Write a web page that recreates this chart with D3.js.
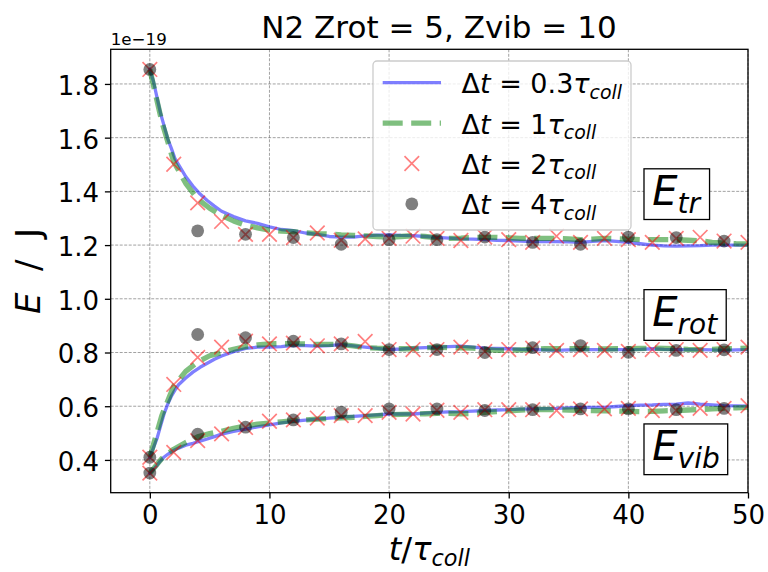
<!DOCTYPE html>
<html><head><meta charset="utf-8">
<script src="https://cdn.jsdelivr.net/npm/d3@7"></script>
<style>body{margin:0;background:#fff} svg{display:block} text{font-family:"DejaVu Sans",sans-serif;fill:#000}</style>
</head><body><svg id="c" width="768" height="572"></svg>
<script>
// ---------- data ----------
const xTicks = [0, 10, 20, 30, 40, 50];
const yTicks = [0.4, 0.6, 0.8, 1.0, 1.2, 1.4, 1.6, 1.8];
const seriesLabels = ["0.3", "1", "2", "4"];
const energyNames = ["tr", "rot", "vib"];
const energyLabelX = [42, 42, 42];
const energyLabelY = [1.35, 0.9, 0.4];

// dt = 0.3 tau (blue line)
const tFine = [0,0.3,0.6,0.9,1.2,1.5,1.8,2.1,2.4,3,3.6,4.2,4.8,5.4,6,7,8,9,10,11,12,13,14,15,16,17,18,19,20,21,22,23,24,25,26,27,28,29,30,31,32,33,34,35,36,37,38,39,40,41,42,43,44,45,46,47,48,49,50];
const trFine = [1.854,1.81,1.75,1.69,1.643,1.595,1.56,1.522,1.5,1.455,1.42,1.39,1.366,1.345,1.326,1.306,1.29,1.281,1.268,1.258,1.254,1.245,1.24,1.232,1.23,1.23,1.234,1.237,1.238,1.236,1.235,1.232,1.229,1.226,1.223,1.222,1.22,1.218,1.217,1.215,1.213,1.213,1.213,1.212,1.21,1.214,1.217,1.214,1.21,1.205,1.2,1.197,1.196,1.197,1.198,1.2,1.2,1.2,1.2];
const rotFine = [0.41,0.445,0.48,0.527,0.573,0.608,0.637,0.66,0.68,0.705,0.727,0.745,0.76,0.775,0.787,0.803,0.815,0.82,0.82,0.822,0.827,0.826,0.824,0.826,0.829,0.825,0.82,0.815,0.811,0.813,0.816,0.818,0.82,0.822,0.824,0.82,0.816,0.815,0.814,0.812,0.811,0.81,0.808,0.81,0.811,0.811,0.811,0.811,0.811,0.812,0.814,0.812,0.811,0.811,0.811,0.81,0.808,0.81,0.811];
const vibFine = [0.351,0.365,0.38,0.397,0.411,0.421,0.43,0.438,0.444,0.455,0.462,0.47,0.478,0.487,0.496,0.506,0.515,0.523,0.531,0.538,0.544,0.548,0.552,0.556,0.559,0.562,0.565,0.568,0.571,0.571,0.571,0.574,0.577,0.579,0.58,0.582,0.584,0.586,0.587,0.589,0.59,0.591,0.592,0.594,0.596,0.596,0.596,0.599,0.602,0.604,0.605,0.607,0.608,0.612,0.608,0.605,0.602,0.601,0.6];

// dt = 1 tau (green dashed)
const tOne = [0,1,2,3,4,5,6,7,8,9,10,11,12,13,14,15,16,17,18,19,20,21,22,23,24,25,26,27,28,29,30,31,32,33,34,35,36,37,38,39,40,41,42,43,44,45,46,47,48,49,50];
const trOne = [1.854,1.66,1.51,1.43,1.372,1.337,1.31,1.29,1.274,1.264,1.256,1.252,1.25,1.246,1.243,1.241,1.238,1.236,1.234,1.232,1.229,1.232,1.235,1.232,1.228,1.225,1.226,1.228,1.229,1.229,1.227,1.225,1.225,1.225,1.225,1.223,1.22,1.222,1.225,1.224,1.222,1.22,1.22,1.22,1.22,1.218,1.216,1.21,1.207,1.205,1.204];
const rotOne = [0.41,0.565,0.675,0.73,0.765,0.788,0.8,0.812,0.822,0.828,0.832,0.833,0.832,0.832,0.83,0.83,0.83,0.825,0.818,0.816,0.815,0.814,0.814,0.818,0.82,0.818,0.817,0.816,0.812,0.808,0.808,0.81,0.812,0.814,0.814,0.814,0.814,0.813,0.813,0.814,0.814,0.815,0.816,0.815,0.814,0.812,0.811,0.812,0.814,0.815,0.816];
const vibOne = [0.351,0.405,0.44,0.465,0.486,0.498,0.507,0.518,0.527,0.533,0.537,0.542,0.546,0.549,0.552,0.555,0.557,0.559,0.562,0.565,0.568,0.57,0.571,0.572,0.573,0.573,0.572,0.573,0.577,0.58,0.583,0.586,0.587,0.588,0.587,0.586,0.585,0.584,0.583,0.582,0.581,0.58,0.581,0.583,0.584,0.586,0.588,0.59,0.592,0.594,0.596];

// dt = 2 tau (red x)
const tTwo = [0,2,4,6,8,10,12,14,16,18,20,22,24,26,28,30,32,34,36,38,40,42,44,46,48,50];
const trTwo = [1.854,1.501,1.357,1.288,1.24,1.24,1.228,1.245,1.218,1.223,1.225,1.233,1.225,1.217,1.23,1.22,1.21,1.233,1.21,1.225,1.22,1.21,1.225,1.229,1.215,1.21];
const rotTwo = [0.41,0.681,0.782,0.82,0.842,0.832,0.835,0.825,0.832,0.841,0.811,0.811,0.811,0.82,0.804,0.811,0.816,0.808,0.811,0.808,0.804,0.811,0.811,0.808,0.811,0.82];
const vibTwo = [0.351,0.428,0.472,0.497,0.521,0.544,0.549,0.556,0.565,0.565,0.577,0.571,0.585,0.577,0.587,0.587,0.587,0.584,0.59,0.59,0.592,0.584,0.584,0.592,0.592,0.602];

// dt = 4 tau (grey dots)
const tFour = [0,4,8,12,16,20,24,28,32,36,40,44,48];
const trFour = [1.854,1.253,1.24,1.228,1.203,1.22,1.22,1.23,1.21,1.203,1.23,1.228,1.215];
const rotFour = [0.41,0.867,0.855,0.842,0.832,0.811,0.811,0.8,0.818,0.826,0.801,0.808,0.81];
const vibFour = [0.351,0.496,0.522,0.549,0.578,0.59,0.59,0.584,0.587,0.59,0.59,0.587,0.592];

// ---------- layout ----------
const M = {l: 110.7, r: 748, t: 49.3, b: 492.7};
const svg = d3.select("#c");
const x = d3.scaleLinear().domain([-3.27, 50]).range([M.l, M.r]);
const y = d3.scaleLinear().domain([0.278, 1.929]).range([M.b, M.t]);

svg.append("defs").append("clipPath").attr("id", "clip")
  .append("rect").attr("x", M.l).attr("y", M.t).attr("width", M.r - M.l).attr("height", M.b - M.t);

// grid
const grid = svg.append("g");
grid.selectAll(".gx").data(xTicks).join("line")
  .attr("x1", d => x(d)).attr("x2", d => x(d)).attr("y1", M.t).attr("y2", M.b);
grid.selectAll(".gy").data(yTicks).join("line")
  .attr("y1", d => y(d)).attr("y2", d => y(d)).attr("x1", M.l).attr("x2", M.r);
grid.selectAll("line").attr("stroke", "#555").attr("stroke-opacity", 0.55)
  .attr("stroke-width", 1).attr("stroke-dasharray", "3,1.5");

// axes
const xAxis = svg.append("g").attr("transform", `translate(0,${M.b})`)
  .call(d3.axisBottom(x).tickValues(xTicks).tickFormat(d3.format("d")).tickSizeInner(5.8).tickSizeOuter(0).tickPadding(7));
const yAxis = svg.append("g").attr("transform", `translate(${M.l},0)`)
  .call(d3.axisLeft(y).tickValues(yTicks).tickFormat(d3.format(".1f")).tickSizeInner(5.8).tickSizeOuter(0).tickPadding(5.8));
[xAxis, yAxis].forEach(a => {
  a.select(".domain").remove();
  a.selectAll(".tick line").attr("stroke", "#000").attr("stroke-width", 1.3);
  a.selectAll(".tick text").attr("font-size", 26).attr("font-family", "DejaVu Sans").attr("fill", "#000");
});
yAxis.selectAll(".tick text").attr("dy", "0.4em");

// plot layer
const plot = svg.append("g").attr("clip-path", "url(#clip)");
const line = d3.line().x(d => x(d[0])).y(d => y(d[1]));
const zip = (t, v) => t.map((d, i) => [d, v[i]]);

[trFine, rotFine, vibFine].forEach(v => {
  plot.append("path").datum(zip(tFine, v)).attr("d", line)
    .attr("fill", "none").attr("stroke", "blue").attr("stroke-opacity", 0.5)
    .attr("stroke-width", 3.3).attr("stroke-linejoin", "round").attr("stroke-linecap", "square");
});
[trOne, rotOne, vibOne].forEach(v => {
  plot.append("path").datum(zip(tOne, v)).attr("d", line)
    .attr("fill", "none").attr("stroke", "green").attr("stroke-opacity", 0.5)
    .attr("stroke-width", 5.3).attr("stroke-dasharray", "20,8.5").attr("stroke-linejoin", "round");
});
const crossPath = s => `M${-s},${-s}L${s},${s}M${-s},${s}L${s},${-s}`;
[trTwo, rotTwo, vibTwo].forEach(v => {
  plot.append("g").selectAll("path").data(zip(tTwo, v)).join("path")
    .attr("transform", d => `translate(${x(d[0])},${y(d[1])})`)
    .attr("d", crossPath(7.3)).attr("fill", "none").attr("stroke", "red")
    .attr("stroke-opacity", 0.5).attr("stroke-width", 1.7);
});
[trFour, rotFour, vibFour].forEach(v => {
  plot.append("g").selectAll("circle").data(zip(tFour, v)).join("circle")
    .attr("cx", d => x(d[0])).attr("cy", d => y(d[1])).attr("r", 6.4)
    .attr("fill", "black").attr("fill-opacity", 0.5);
});

// spines
svg.append("rect").attr("x", M.l).attr("y", M.t).attr("width", M.r - M.l).attr("height", M.b - M.t)
  .attr("fill", "none").attr("stroke", "#000").attr("stroke-width", 1.3);

// math text helper
function mathText(g, px, py, parts, size, anchor) {
  const t = g.append("text").attr("x", px).attr("y", py).attr("font-size", size)
    .attr("text-anchor", anchor || "start");
  let shifted = false;
  parts.forEach(p => {
    const ts = t.append("tspan").text(p.t);
    if (p.i) ts.attr("font-style", "italic");
    if (p.sub) {
      ts.attr("font-size", size * 0.7);
      if (!shifted) { ts.attr("dy", size * 0.2); shifted = true; }
    }
  });
  return t;
}

// energy labels with boxes
energyNames.forEach((n, i) => {
  const g = svg.append("g");
  const px = x(energyLabelX[i]), py = y(energyLabelY[i]);
  const t = mathText(g, px, py, [{t: "E", i: 1}, {t: n, i: 1, sub: 1}], 40);
  const bb = t.node().getBBox();
  g.insert("rect", "text").attr("x", px - 8.3).attr("y", py - 36)
    .attr("width", bb.width + 8.3 + 8).attr("height", 50.7)
    .attr("fill", "#fff").attr("stroke", "#000").attr("stroke-width", 1.3);
});

// legend
const lg = svg.append("g");
lg.append("rect").attr("x", 373).attr("y", 61).attr("width", 258).attr("height", 169).attr("rx", 4)
  .attr("fill", "#fff").attr("fill-opacity", 0.8).attr("stroke", "#ccc").attr("stroke-width", 1.3);
const rowY = i => 82.7 + i * 40.4;
const hx0 = 382.7, hx1 = 441, hxm = 411.8, tx = 461.5;
lg.append("line").attr("x1", hx0).attr("x2", hx1).attr("y1", rowY(0)).attr("y2", rowY(0))
  .attr("stroke", "blue").attr("stroke-opacity", 0.5).attr("stroke-width", 3.3);
lg.append("line").attr("x1", hx0).attr("x2", hx1).attr("y1", rowY(1)).attr("y2", rowY(1))
  .attr("stroke", "green").attr("stroke-opacity", 0.5).attr("stroke-width", 5.3).attr("stroke-dasharray", "20,8.5");
lg.append("path").attr("transform", `translate(${hxm},${rowY(2)})`).attr("d", crossPath(7.3))
  .attr("fill", "none").attr("stroke", "red").attr("stroke-opacity", 0.5).attr("stroke-width", 1.7);
lg.append("circle").attr("cx", hxm).attr("cy", rowY(3)).attr("r", 6.4).attr("fill", "black").attr("fill-opacity", 0.5);
seriesLabels.forEach((s, i) => {
  mathText(lg, tx, rowY(i) + 10.5,
    [{t: "Δ"}, {t: "t", i: 1}, {t: " = " + s}, {t: "τ", i: 1}, {t: "coll", i: 1, sub: 1}], 27);
});

// title, labels, offset
svg.append("text").attr("x", 439).attr("y", 38).attr("text-anchor", "middle").attr("font-size", 31)
  .text("N2 Zrot = 5, Zvib = 10");
svg.append("text").attr("x", M.l).attr("y", 44.5).attr("font-size", 16.7).text("1e\u221219");
mathText(svg, (M.l + M.r) / 2, 559.5, [{t: "t", i: 1}, {t: "/"}, {t: "τ", i: 1}, {t: "coll", i: 1, sub: 1}], 32, "middle");
const yl = svg.append("g").attr("transform", `translate(40,${(M.t + M.b) / 2}) rotate(-90)`);
mathText(yl, 0, 0, [{t: "E", i: 1}, {t: " \u00a0/ \u00a0J"}], 34, "middle");
</script></body></html>
